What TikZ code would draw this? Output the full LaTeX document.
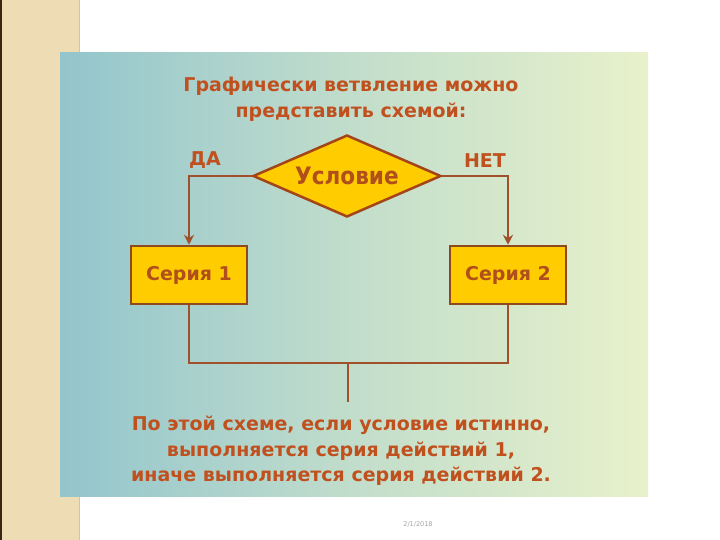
\documentclass[tikz,border=0pt]{standalone}
\usepackage{fontspec}
\setmainfont{DejaVu Sans}
\newfontfamily\condfont{DejaVu Sans Condensed}
\usetikzlibrary{shapes.geometric,arrows.meta}
\definecolor{txtbrown}{HTML}{C0501E}
\definecolor{boxtxt}{HTML}{B04E1C}
\definecolor{linebrown}{HTML}{A0502A}
\definecolor{boxedge}{HTML}{8E4A1E}
\definecolor{gold}{HTML}{FFCC00}
\definecolor{beige}{HTML}{EEDDB4}
\definecolor{teal}{HTML}{93C5CC}
\definecolor{lightgreen}{HTML}{E8F1CB}
\tikzset{
  lbl/.style={text=txtbrown,font=\bfseries\fontsize{19}{26}\selectfont,align=center},
  desclbl/.style={text=txtbrown,font=\bfseries\fontsize{19}{25.5}\selectfont,align=center},
  seriesbox/.style={draw=boxedge,line width=2.5pt,fill=gold,minimum width=116pt,minimum height=58pt,text=boxtxt,font=\bfseries\fontsize{19}{22}\selectfont},
  condbox/.style={diamond,draw=txtbrown!85!black,line width=2.5pt,fill=gold,aspect=2.3,minimum width=188pt,minimum height=82pt,inner sep=0pt,text=boxtxt,font=\condfont\bfseries\fontsize{24}{26}\selectfont},
  conn/.style={draw=linebrown,line width=2.8pt},
  arr/.style={conn,-{Stealth[length=10pt,width=10pt]}}
}
\begin{document}
\begin{tikzpicture}[x=1pt,y=-1pt]
\useasboundingbox (0,0) rectangle (720,540);
\fill[white] (0,0) rectangle (720,540);
% left bar
\fill[beige] (0,0) rectangle (79,540);
\draw[black!70!brown,line width=1.5pt] (1,0) -- (1,540);
\draw[beige!70!brown,line width=0.6pt] (79,0) -- (79,540);
% panel
\shade[left color=teal,right color=lightgreen,middle color=teal!45!lightgreen] (60,53) rectangle (648,496);
% title
\node[lbl] (title) at (351,99) {Графически ветвление можно\\представить схемой:};
% diamond
\node[condbox] (cond) at (347,176) {Условие};
\node[seriesbox] (s1) at (189,275) {Серия 1};
\node[seriesbox] (s2) at (508,275) {Серия 2};
\node[lbl] (yes) at (205,160) {ДА};
\node[lbl] (no) at (485,161) {НЕТ};
\coordinate (join) at (348,363);
\coordinate (out) at (348,402);
\draw[arr] (cond.west) -| (s1.north);
\draw[arr] (cond.east) -| (s2.north);
\draw[conn] (s1.south) |- (join) -| (s2.south);
\draw[conn] (join) -- (out);
% bottom text
\node[desclbl] (desc) at (341,451) {По этой схеме, если условие истинно,\\выполняется серия действий 1,\\иначе выполняется серия действий 2.};
\node[text=gray!70,font=\fontsize{6.5}{8}\selectfont] (date) at (418,524) {2/1/2018};
\end{tikzpicture}
\end{document}
